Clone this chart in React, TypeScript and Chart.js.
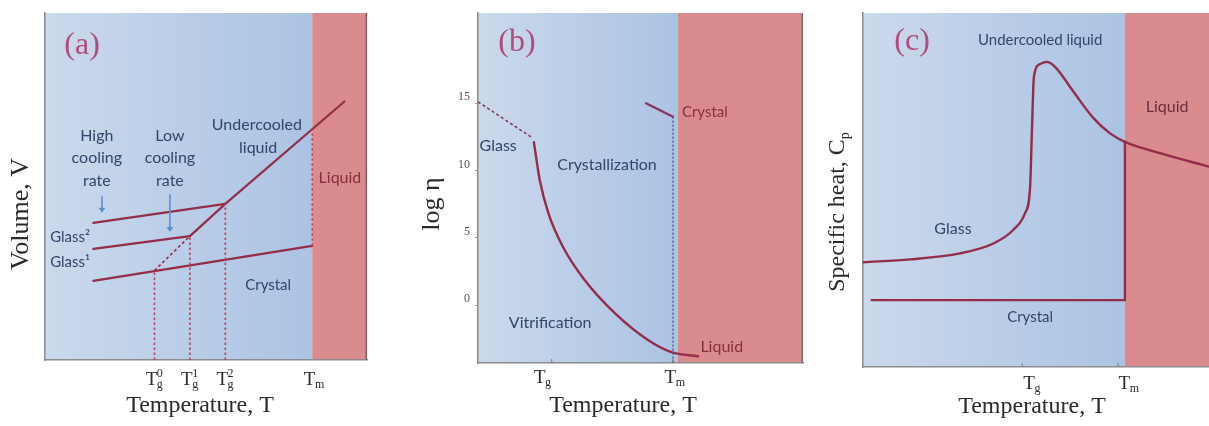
import React, { useEffect, useRef } from "react";
import { Chart, registerables } from "chart.js";
Chart.register(...registerables);

type Pt = { x: number; y: number };

// ---------- Panel (a): volume vs temperature ----------
const aGlassHigh: Pt[] = [{ x: 15, y: 39.5 }, { x: 56, y: 45 }];
const aGlassLow: Pt[] = [{ x: 15, y: 32 }, { x: 45, y: 35.7 }];
const aCrystal: Pt[] = [{ x: 15, y: 22.8 }, { x: 83, y: 32.9 }];
const aUndercooledDash: Pt[] = [{ x: 34, y: 25.8 }, { x: 45, y: 35.7 }];
const aLiquid: Pt[] = [{ x: 45, y: 35.7 }, { x: 56, y: 45 }, { x: 93, y: 74.5 }];
const aMeltJump: Pt[] = [{ x: 83, y: 32.9 }, { x: 83, y: 66.5 }];
const aTgValues = [34, 45, 56];
const aTgTops = [25.8, 35.7, 45];
const aTickValues = [34, 45, 56, 83];
const aTickSub = ["g", "g", "g", "m"];
const aTickSup = ["0", "1", "2", ""];
const aMelt = 83;

// ---------- Panel (b): log viscosity vs temperature ----------
const bGlass: Pt[] = [{ x: 0, y: 15.1 }, { x: 16.9, y: 12.4 }];
const bViscosity: Pt[] = [
  { x: 17.2, y: 12.1 }, { x: 19.0, y: 9.3 }, { x: 21.7, y: 6.8 }, { x: 26.2, y: 4.3 },
  { x: 32.8, y: 1.86 }, { x: 42.1, y: -0.6 }, { x: 52.3, y: -2.6 }, { x: 59.5, y: -3.5 },
  { x: 67.7, y: -3.8 },
];
const bCrystal: Pt[] = [{ x: 51.7, y: 15.0 }, { x: 60, y: 14.0 }];
const bMeltDash: Pt[] = [{ x: 60, y: 14.0 }, { x: 60, y: -4.3 }];
const bYTicks = [0, 5, 10, 15];
const bTickValues = [22.7, 60];
const bTickSub = ["g", "m"];
const bTickSup = ["", ""];
const bMelt = 61.5;

// ---------- Panel (c): specific heat vs temperature ----------
const cCp: Pt[] = [
  { x: 0, y: 29.6 }, { x: 13.6, y: 30.4 }, { x: 28.0, y: 32.1 }, { x: 37.7, y: 34.9 },
  { x: 43.4, y: 38.7 }, { x: 46.8, y: 43.4 }, { x: 48.3, y: 50.9 }, { x: 48.8, y: 66.0 },
  { x: 49.4, y: 82.0 }, { x: 51.2, y: 85.6 }, { x: 53.1, y: 86.2 }, { x: 55.5, y: 84.8 },
  { x: 60.8, y: 77.8 }, { x: 66.6, y: 70.3 }, { x: 71.4, y: 66.0 }, { x: 75.7, y: 63.6 },
  { x: 85.8, y: 60.4 }, { x: 100, y: 56.6 },
];
const cCrystal: Pt[] = [{ x: 2.5, y: 18.9 }, { x: 75.7, y: 18.9 }, { x: 75.7, y: 63.6 }];
const cTickValues = [46, 73.7];
const cTickSub = ["g", "m"];
const cTickSup = ["", ""];
const cMelt = 75.7;

// ---------- styling ----------
const MAROON = "#952c48";
const DASH_RED = "#c0405e";
const TXT = "#33456a";
const TXT_RED = "#85303f";
const SANS = 'Lato, "Open Sans", sans-serif';
const SERIF = '"Liberation Serif", "DejaVu Serif", serif';

type Series = { data: Pt[]; color: string; width: number; dash?: number[]; smooth?: boolean };
type Note = { text: string; x: number; y: number; color?: string; size?: number; family?: string; align?: CanvasTextAlign };

interface PanelCfg {
  left: number; width: number; leftW: number; right: number; top: number; bottomH: number;
  xMin: number; xMax: number; yMin: number; yMax: number;
  melt: number;
  series: Series[];
  notes: Note[];
  tickValues: number[]; tickSub: string[]; tickSup: string[]; tickDx: number[]; tickBaseline: number; tickMarks: boolean;
  xTitle: { cx: number; cy: number };
  yTitle: { text: string; sub?: string; cx: number; cy: number; size: number };
  yTicks?: number[];
  arrows?: { x: number; y0: number; y1: number }[];
  rightBorder?: string;
}

const H = 426;

function drawTLabel(ctx: CanvasRenderingContext2D, cx: number, base: number, sub: string, sup: string) {
  ctx.font = `19px ${SERIF}`;
  const wT = ctx.measureText("T").width;
  ctx.font = `12px ${SERIF}`;
  const ws = Math.max(ctx.measureText(sub).width, sup ? ctx.measureText(sup).width : 0);
  const x0 = cx - (wT + ws) / 2;
  ctx.textAlign = "left";
  ctx.textBaseline = "alphabetic";
  ctx.fillStyle = "#2b2b2b";
  ctx.font = `19px ${SERIF}`;
  ctx.fillText("T", x0, base);
  ctx.font = `12px ${SERIF}`;
  ctx.fillText(sub, x0 + wT - 0.5, base + 3);
  if (sup) ctx.fillText(sup, x0 + wT - 0.5, base - 8);
}

function makeDeco(cfg: PanelCfg) {
  return {
    id: "deco",
    beforeDraw(chart: any) {
      const { ctx, chartArea } = chart;
      const { left, right, top, bottom } = chartArea;
      const mx = chart.scales.x.getPixelForValue(cfg.melt);
      ctx.save();
      const g = ctx.createLinearGradient(left, 0, mx, 0);
      g.addColorStop(0, "#cbd9ec");
      g.addColorStop(1, "#abc3e3");
      ctx.fillStyle = g;
      ctx.fillRect(left, top, mx - left, bottom - top);
      ctx.fillStyle = "#d98b8d";
      ctx.fillRect(mx, top, right - mx, bottom - top);
      ctx.restore();
    },
    afterDraw(chart: any) {
      const { ctx, chartArea } = chart;
      const xs = chart.scales.x;
      const ys = chart.scales.y;
      ctx.save();
      if (cfg.rightBorder) {
        ctx.strokeStyle = cfg.rightBorder;
        ctx.lineWidth = 1.5;
        ctx.beginPath();
        ctx.moveTo(chartArea.right - 0.75, chartArea.top);
        ctx.lineTo(chartArea.right - 0.75, chartArea.bottom);
        ctx.stroke();
      }
      // notes
      for (const n of cfg.notes) {
        ctx.font = `${n.size || 15}px ${n.family || SANS}`;
        ctx.fillStyle = n.color || TXT;
        ctx.textAlign = n.align || "center";
        ctx.textBaseline = "middle";
        ctx.fillText(n.text, xs.getPixelForValue(n.x), ys.getPixelForValue(n.y));
      }
      // arrows
      for (const a of cfg.arrows || []) {
        const px = xs.getPixelForValue(a.x);
        const p0 = ys.getPixelForValue(a.y0);
        const p1 = ys.getPixelForValue(a.y1);
        ctx.strokeStyle = "#5b8fd0";
        ctx.fillStyle = "#5b8fd0";
        ctx.lineWidth = 1.6;
        ctx.beginPath();
        ctx.moveTo(px, p0);
        ctx.lineTo(px, p1 - 4);
        ctx.stroke();
        ctx.beginPath();
        ctx.moveTo(px - 3.5, p1 - 5);
        ctx.lineTo(px + 3.5, p1 - 5);
        ctx.lineTo(px, p1);
        ctx.closePath();
        ctx.fill();
      }
      // x tick labels
      cfg.tickValues.forEach((v, i) => {
        const px = xs.getPixelForValue(v);
        if (cfg.tickMarks) {
          ctx.strokeStyle = "#7a7a7a";
          ctx.lineWidth = 1;
          ctx.beginPath();
          ctx.moveTo(px, chartArea.bottom);
          ctx.lineTo(px, chartArea.bottom - 4);
          ctx.stroke();
        }
        drawTLabel(ctx, px + cfg.tickDx[i], cfg.tickBaseline, cfg.tickSub[i], cfg.tickSup[i]);
      });
      // x title
      ctx.font = `24px ${SERIF}`;
      ctx.fillStyle = "#2b2b2b";
      ctx.textAlign = "center";
      ctx.textBaseline = "middle";
      ctx.fillText("Temperature, T", cfg.xTitle.cx, cfg.xTitle.cy);
      // y title
      const yt = cfg.yTitle;
      ctx.translate(yt.cx, yt.cy);
      ctx.rotate(-Math.PI / 2);
      ctx.font = `${yt.size}px ${SERIF}`;
      const w = ctx.measureText(yt.text).width;
      let ws = 0;
      if (yt.sub) {
        ctx.font = `${Math.round(yt.size * 0.6)}px ${SERIF}`;
        ws = ctx.measureText(yt.sub).width;
      }
      const x0 = -(w + ws) / 2;
      ctx.textAlign = "left";
      ctx.font = `${yt.size}px ${SERIF}`;
      ctx.fillText(yt.text, x0, 0);
      if (yt.sub) {
        ctx.font = `${Math.round(yt.size * 0.6)}px ${SERIF}`;
        ctx.fillText(yt.sub, x0 + w, yt.size * 0.3);
      }
      ctx.restore();
    },
  };
}

function Panel({ cfg }: { cfg: PanelCfg }) {
  const ref = useRef<HTMLCanvasElement>(null);
  useEffect(() => {
    const yOpts: any = {
      type: "linear",
      min: cfg.yMin,
      max: cfg.yMax,
      afterFit: (s: any) => { s.width = cfg.leftW; },
      border: { display: true, color: "#8c8c8c", width: 1.5 },
    };
    if (cfg.yTicks) {
      yOpts.afterBuildTicks = (s: any) => { s.ticks = cfg.yTicks!.map((v) => ({ value: v })); };
      yOpts.ticks = { display: true, color: "#555", font: { family: SERIF, size: 12 }, padding: 5, labelOffset: -6 };
      yOpts.grid = { display: true, drawOnChartArea: false, drawTicks: true, tickLength: 3, color: "#9a9a9a" };
    } else {
      yOpts.ticks = { display: false };
      yOpts.grid = { display: false };
    }
    const chart = new Chart(ref.current!, {
      type: "line",
      data: {
        datasets: cfg.series.map((s) => ({
          data: s.data,
          borderColor: s.color,
          borderWidth: s.width,
          borderDash: s.dash || [],
          borderCapStyle: s.dash ? "butt" : "round",
          pointRadius: 0,
          fill: false,
          tension: s.smooth ? 0.4 : 0,
          cubicInterpolationMode: s.smooth ? "monotone" : "default",
        })) as any,
      },
      options: {
        responsive: false,
        animation: false,
        devicePixelRatio: 1,
        events: [],
        layout: { padding: { left: 0, top: cfg.top, right: cfg.right, bottom: 0 } },
        plugins: { legend: { display: false }, tooltip: { enabled: false } },
        scales: {
          x: {
            type: "linear",
            min: cfg.xMin,
            max: cfg.xMax,
            afterFit: (s: any) => { s.height = cfg.bottomH; },
            grid: { display: false },
            ticks: { display: false },
            border: { display: true, color: "#8c8c8c", width: 1.5 },
          },
          y: yOpts,
        },
      } as any,
      plugins: [makeDeco(cfg)],
    });
    return () => chart.destroy();
  }, [cfg]);
  return (
    <canvas
      ref={ref}
      width={cfg.width}
      height={H}
      style={{ position: "absolute", left: cfg.left, top: 0, width: cfg.width, height: H }}
    />
  );
}

const panelA: PanelCfg = {
  left: 0, width: 400, leftW: 45, right: 33, top: 13, bottomH: 66,
  xMin: 0, xMax: 100, yMin: 0, yMax: 100, melt: aMelt,
  series: [
    ...aTgValues.map((v, i) => ({ data: [{ x: v, y: 0 }, { x: v, y: aTgTops[i] }], color: DASH_RED, width: 1.6, dash: [2.5, 2.5] })),
    { data: aMeltJump, color: DASH_RED, width: 1.6, dash: [2.5, 2.5] },
    { data: aUndercooledDash, color: MAROON, width: 1.6, dash: [3, 2.5] },
    { data: aGlassHigh, color: MAROON, width: 2.2 },
    { data: aGlassLow, color: MAROON, width: 2.2 },
    { data: aCrystal, color: MAROON, width: 2.2 },
    { data: aLiquid, color: MAROON, width: 2.2 },
  ],
  notes: [
    { text: "(a)", x: 11.5, y: 90.5, color: "#b24c7c", size: 32, family: SERIF },
    { text: "High", x: 16.1, y: 64.6, size: 16 },
    { text: "cooling", x: 16.1, y: 58.2, size: 16 },
    { text: "rate", x: 16.1, y: 51.6, size: 16 },
    { text: "Low", x: 38.8, y: 64.6, size: 16 },
    { text: "cooling", x: 38.8, y: 58.2, size: 16 },
    { text: "rate", x: 38.8, y: 51.6, size: 16 },
    { text: "Undercooled", x: 65.8, y: 67.7, size: 16 },
    { text: "liquid", x: 66.2, y: 61.1, size: 16 },
    { text: "Liquid", x: 91.6, y: 52.4, size: 16, color: TXT_RED },
    { text: "Crystal", x: 69.3, y: 21.6, size: 15 },
    { text: "Glass²", x: 1.6, y: 35.4, size: 15, align: "left" },
    { text: "Glass¹", x: 1.6, y: 28.2, size: 15, align: "left" },
  ],
  arrows: [
    { x: 17.7, y0: 47.2, y1: 42.4 },
    { x: 38.8, y0: 47.8, y1: 36.9 },
  ],
  tickValues: aTickValues, tickSub: aTickSub, tickSup: aTickSup, tickDx: [0, 0, 0, 2], tickBaseline: 385, tickMarks: false,
  xTitle: { cx: 200, cy: 406 },
  yTitle: { text: "Volume, V", cx: 21, cy: 214, size: 26 },
  rightBorder: "#9a5565",
};

const panelB: PanelCfg = {
  left: 400, width: 410, leftW: 78, right: 7, top: 13, bottomH: 63,
  xMin: 0, xMax: 100, yMin: -4.3, yMax: 21.7, melt: bMelt,
  series: [
    { data: bMeltDash, color: "#4d5d7a", width: 1.4, dash: [2, 2] },
    { data: bGlass, color: "#8a3a5a", width: 1.6, dash: [3, 2.5] },
    { data: bViscosity, color: MAROON, width: 2.4, smooth: true },
    { data: bCrystal, color: "#8a3060", width: 2.2 },
  ],
  notes: [
    { text: "(b)", x: 12, y: 19.5, color: "#b24c7c", size: 32, family: SERIF },
    { text: "Glass", x: 6.2, y: 11.8, size: 16 },
    { text: "Crystallization", x: 39.7, y: 10.4, size: 16 },
    { text: "Crystal", x: 69.8, y: 14.3, size: 15, color: TXT_RED },
    { text: "Vitrification", x: 22.2, y: -1.3, size: 16 },
    { text: "Liquid", x: 75, y: -3.1, size: 16, color: TXT_RED },
  ],
  tickValues: bTickValues, tickSub: bTickSub, tickSup: bTickSup, tickDx: [-9, 2], tickBaseline: 383, tickMarks: true,
  xTitle: { cx: 223, cy: 406 },
  yTitle: { text: "log η", cx: 32, cy: 204, size: 26 },
  yTicks: bYTicks,
  rightBorder: "#8a6a72",
};

const panelC: PanelCfg = {
  left: 810, width: 399, leftW: 53, right: 0, top: 13, bottomH: 59,
  xMin: 0, xMax: 100, yMin: 0, yMax: 100, melt: cMelt,
  series: [
    { data: cCrystal, color: MAROON, width: 2.4 },
    { data: cCp, color: MAROON, width: 2.4, smooth: true },
  ],
  notes: [
    { text: "(c)", x: 14.2, y: 91.8, color: "#b24c7c", size: 32, family: SERIF },
    { text: "Undercooled liquid", x: 51.2, y: 92.4, size: 15 },
    { text: "Liquid", x: 87.9, y: 73.4, size: 16, color: "#6a3040" },
    { text: "Glass", x: 26, y: 39, size: 16 },
    { text: "Crystal", x: 48.3, y: 14.1, size: 15 },
  ],
  tickValues: cTickValues, tickSub: cTickSub, tickSup: cTickSup, tickDx: [10, 11], tickBaseline: 389, tickMarks: true,
  xTitle: { cx: 222, cy: 407 },
  yTitle: { text: "Specific heat, C", sub: "p", cx: 28, cy: 212, size: 24 },
};

export default function App() {
  return (
    <div style={{ position: "fixed", left: 0, top: 0, width: 1209, height: H, background: "#fff", overflow: "hidden" }}>
      <Panel cfg={panelA} />
      <Panel cfg={panelB} />
      <Panel cfg={panelC} />
    </div>
  );
}
